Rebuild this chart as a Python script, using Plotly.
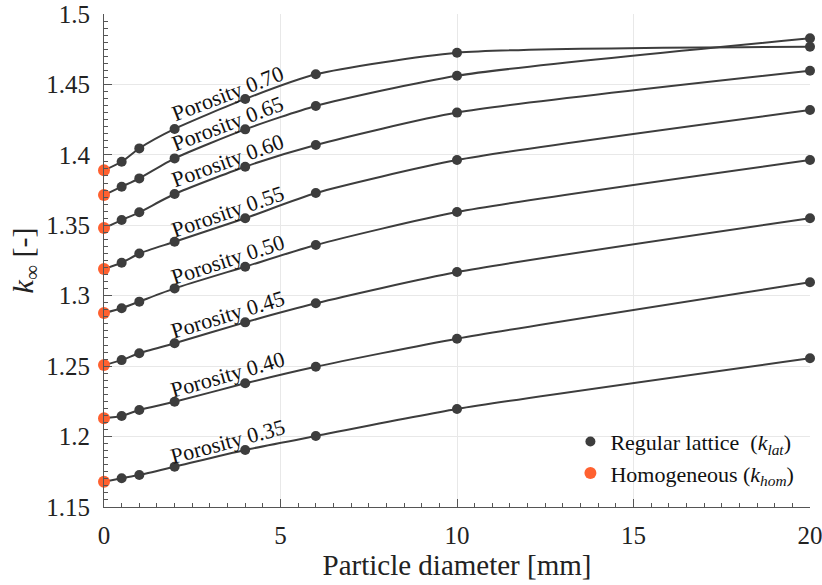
import numpy as np
import plotly.graph_objects as go

# ---- data ----
porosity_labels = ["0.35", "0.40", "0.45", "0.50", "0.55", "0.60", "0.65", "0.70"]
diam_lat = [0.5, 1, 2, 4, 6, 10, 20]          # particle diameter [mm]
diam_hom = 0.0

k_hom = [1.168, 1.2130, 1.2508, 1.2877, 1.3190, 1.3480, 1.3715, 1.3890]

k_lat_035 = [1.1704, 1.1727, 1.1786, 1.1905, 1.2004, 1.2196, 1.2556]
k_lat_040 = [1.2146, 1.2189, 1.2247, 1.2378, 1.2496, 1.2695, 1.3095]
k_lat_045 = [1.2543, 1.2591, 1.2662, 1.2811, 1.2946, 1.3168, 1.3550]
k_lat_050 = [1.2911, 1.2958, 1.3052, 1.3206, 1.3360, 1.3594, 1.3963]
k_lat_055 = [1.3234, 1.3300, 1.3383, 1.3550, 1.3729, 1.3963, 1.4318]
k_lat_060 = [1.3537, 1.3592, 1.3722, 1.3916, 1.4070, 1.4300, 1.4597]
k_lat_065 = [1.3774, 1.3833, 1.3975, 1.4181, 1.4347, 1.4562, 1.4827]
k_lat_070 = [1.3951, 1.4046, 1.4184, 1.4397, 1.4572, 1.4725, 1.4768]

k_lat = [k_lat_035, k_lat_040, k_lat_045, k_lat_050,
         k_lat_055, k_lat_060, k_lat_065, k_lat_070]

x_ticks = [0, 5, 10, 15, 20]
y_ticks = [1.15, 1.2, 1.25, 1.3, 1.35, 1.4, 1.45, 1.5]
y_ticklabels = ["1.15", "1.2", "1.25", "1.3", "1.35", "1.4", "1.45", "1.5"]

# ---- style ----
FONT = "Liberation Serif"
DARK = "#3d3d3d"
ORANGE = "#ff6130"
label_angles = [-15, -16, -17, -18, -19, -20, -21, -21]

fig = go.Figure()

# curves (homogeneous point + lattice points)
for kh, kl in zip(k_hom, k_lat):
    fig.add_trace(go.Scatter(
        x=[diam_hom] + diam_lat, y=[kh] + kl,
        mode="lines", line=dict(color=DARK, width=2, shape="spline", smoothing=0.6),
        showlegend=False, hoverinfo="skip", cliponaxis=False))

# lattice markers
all_x, all_y = [], []
for kl in k_lat:
    all_x += diam_lat + [None]
    all_y += kl + [None]
fig.add_trace(go.Scatter(
    x=all_x, y=all_y, mode="markers",
    marker=dict(color=DARK, size=10),
    name="Regular lattice  (<i>k<sub>lat</sub></i>)", cliponaxis=False))

# homogeneous markers
fig.add_trace(go.Scatter(
    x=[diam_hom] * len(k_hom), y=k_hom, mode="markers",
    marker=dict(color=ORANGE, size=12),
    name="Homogeneous (<i>k<sub>hom</sub></i>)", cliponaxis=False))

# labels
label_x = 3.5
for lab, kh, kl, ang in zip(porosity_labels, k_hom, k_lat, label_angles):
    yv = float(np.interp(label_x, [diam_hom] + diam_lat, [kh] + kl))
    fig.add_annotation(x=label_x, y=yv, yshift=13, text=f"Porosity {lab}",
                       showarrow=False, textangle=ang,
                       font=dict(family=FONT, size=22, color="#111111"))

axis_common = dict(
    showline=True, linecolor="#555555", linewidth=1.2,
    ticks="inside", ticklen=8, tickcolor="#555555", tickwidth=1,
    showgrid=True, gridcolor="#e8e8e8", gridwidth=1,
    zeroline=False, mirror=False, automargin=False,
    tickfont=dict(family=FONT, size=25, color="#222222"),
    ticklabeloverflow="allow",
)

fig.update_xaxes(
    range=[0, 20], tickvals=x_ticks, ticktext=[str(v) for v in x_ticks],
    minor=dict(dtick=0.5, ticks="inside", ticklen=4, tickcolor="#555555", showgrid=False),
    title=dict(text="Particle diameter [mm]", font=dict(family=FONT, size=29, color="#222222"), standoff=6),
    ticklabelstandoff=6,
    **axis_common)
fig.update_yaxes(
    range=[1.15, 1.5], tickvals=y_ticks, ticktext=y_ticklabels,
    minor=dict(dtick=0.005, ticks="inside", ticklen=4, tickcolor="#555555", showgrid=False),
    title=dict(text="<i>k</i><sub>∞</sub> [-]", font=dict(family=FONT, size=30, color="#222222"), standoff=3),
    ticklabelstandoff=8,
    **axis_common)

fig.update_layout(
    width=822, height=585,
    margin=dict(l=104, r=12, t=14, b=78, autoexpand=False),
    plot_bgcolor="white", paper_bgcolor="white",
    font=dict(family=FONT),
    legend=dict(x=0.985, y=0.025, xanchor="right", yanchor="bottom",
                bgcolor="rgba(0,0,0,0)", font=dict(family=FONT, size=22, color="#111111"),
                itemwidth=30, tracegroupgap=0),
)

fig.write_html("out.html")
